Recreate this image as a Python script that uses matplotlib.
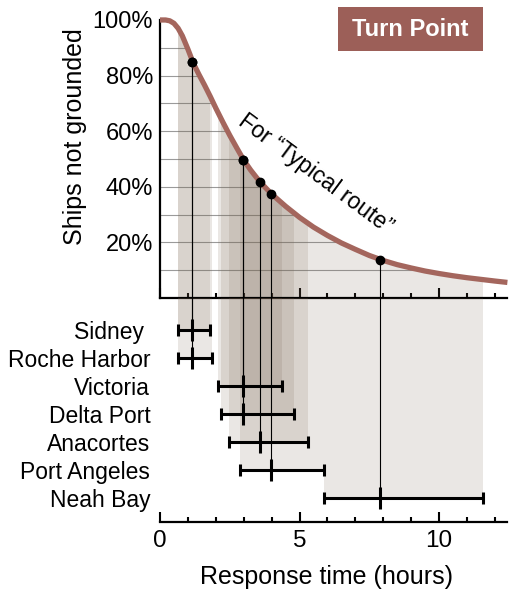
import numpy as np
import matplotlib.pyplot as plt
from matplotlib.patches import Polygon, Rectangle
from matplotlib.ticker import MultipleLocator

plt.rcParams["font.family"] = ["Liberation Sans", "DejaVu Sans"]

# share of ships not yet grounded vs response time, "typical route"
curve_t = [0, 0.2, 0.35, 0.5, 0.65, 0.8, 1.0, 1.2, 1.4, 1.6, 1.8, 2.0, 2.25,
           2.5, 2.75, 3.0, 3.25, 3.5, 3.75, 4.0, 4.5, 5.0, 5.5, 6.0, 6.5, 7.0,
           7.5, 8.0, 8.5, 9.0, 9.5, 10.0, 10.5, 11.0, 11.5, 12.0, 12.45]
curve_pct = [100, 100, 99.7, 98.8, 97, 94.3, 89.5, 84.3, 80.3, 76.5, 72.5,
             68.3, 63.3, 58.5, 54, 49.6, 46, 42.8, 40, 37.4, 33, 29, 25.5,
             22.5, 19.8, 17.5, 15.3, 13.5, 12, 10.8, 9.7, 8.8, 8.0, 7.3, 6.7,
             6.1, 5.6]

# response time per tug base (hours)
ports = ["Sidney ", "Roche Harbor", "Victoria", "Delta Port", "Anacortes",
         "Port Angeles", "Neah Bay"]
resp_mid = [1.16, 1.16, 2.97, 2.97, 3.58, 3.98, 7.89]
resp_lo = [0.66, 0.66, 2.07, 2.19, 2.49, 2.87, 5.89]
resp_hi = [1.79, 1.87, 4.39, 4.80, 5.32, 5.89, 11.59]
pct_at_mid = [84.8, 84.8, 49.6, 49.6, 41.8, 37.5, 13.7]

title = "Turn Point"

curve_col = "#a4665d"
box_col = "#9c5f58"
band_col = (0.47, 0.39, 0.31)
band_alpha = 0.15

W, H = 510.0, 605.0
fig = plt.figure(figsize=(W / 100, H / 100), dpi=100)

ax_top = fig.add_axes([160 / W, (H - 298) / H, 347.4 / W, 280.8 / H])
ax_bot = fig.add_axes([160 / W, (H - 522) / H, 347.4 / W, 224 / H])

xmax = 12.45
row_top = -1.143
row_bot = 6.857

# ---- upper panel ----
ax_top.set_xlim(0, xmax)
ax_top.set_ylim(0, 101)

under = Polygon(list(zip(curve_t, curve_pct)) + [(curve_t[-1], 0), (0, 0)],
                closed=True, facecolor="none", edgecolor="none")
ax_top.add_patch(under)

for y in range(10, 100, 10):
    gl = ax_top.axhline(y, color="#9a9a9a", lw=0.8, zorder=1)
    gl.set_clip_path(under)

for lo, hi in zip(resp_lo, resp_hi):
    sp = ax_top.axvspan(lo, hi, color=band_col, alpha=band_alpha, lw=0, zorder=2)
    sp.set_clip_path(under)

for m, p in zip(resp_mid, pct_at_mid):
    ax_top.plot([m, m], [0, p], color="k", lw=0.8, zorder=3)

ax_top.plot(curve_t, curve_pct, color=curve_col, lw=3.8, zorder=4,
            solid_capstyle="butt", solid_joinstyle="round", clip_on=False)
ax_top.plot(resp_mid, pct_at_mid, "o", color="k", ms=6, zorder=5)

ax_top.text(5.57, 44.5, "For \u201cTypical route\u201d", rotation=-36.5,
            rotation_mode="anchor", ha="center", va="center", fontsize=16.5)

ax_top.set_yticks([20, 40, 60, 80, 100], ["20%", "40%", "60%", "80%", "100%"])
ax_top.tick_params(axis="y", length=0, pad=5, labelsize=17)
ax_top.xaxis.set_major_locator(MultipleLocator(5))
ax_top.xaxis.set_minor_locator(MultipleLocator(1))
ax_top.tick_params(axis="x", which="both", direction="in", labelbottom=False,
                   width=1.5)
ax_top.tick_params(axis="x", which="major", length=7)
ax_top.tick_params(axis="x", which="minor", length=3.5)
for s in ["top", "right"]:
    ax_top.spines[s].set_visible(False)
ax_top.spines["left"].set_linewidth(1.6)
ax_top.spines["bottom"].set_linewidth(1.6)
ax_top.spines["left"].set_bounds(0, 100)
ax_top.patch.set_alpha(0)

# ---- lower panel ----
rows = np.arange(len(ports))
ax_bot.set_xlim(0, xmax)
ax_bot.set_ylim(row_bot, row_top)

for i, (lo, hi) in enumerate(zip(resp_lo, resp_hi)):
    ax_bot.fill_between([lo, hi], row_top, rows[i], color=band_col,
                        alpha=band_alpha, lw=0, zorder=1)
for i, m in enumerate(resp_mid):
    ax_bot.plot([m, m], [row_top, rows[i]], color="k", lw=0.8, zorder=2)

mid = np.array(resp_mid)
ax_bot.errorbar(mid, rows, xerr=[mid - np.array(resp_lo), np.array(resp_hi) - mid],
                fmt="none", ecolor="k", elinewidth=2.2, capsize=4.3,
                capthick=2.2, zorder=3)
ax_bot.plot(mid, rows, "|", color="k", ms=16, mew=2.2, zorder=4)

ax_bot.set_yticks(rows, ports)
ax_bot.tick_params(axis="y", length=0, pad=7, labelsize=16.5)
ax_bot.set_xticks([0, 5, 10])
ax_bot.xaxis.set_minor_locator(MultipleLocator(1))
ax_bot.tick_params(axis="x", which="both", direction="in", width=1.5,
                   labelsize=17.5, pad=6)
ax_bot.tick_params(axis="x", which="major", length=7)
ax_bot.tick_params(axis="x", which="minor", length=3.5)
for s in ["top", "right", "left"]:
    ax_bot.spines[s].set_visible(False)
ax_bot.spines["bottom"].set_linewidth(1.6)
ax_bot.patch.set_alpha(0)

fig.text(75 / W, (H - 137) / H, "Ships not grounded", rotation=90,
         ha="center", va="center", fontsize=18)
fig.text(327 / W, (H - 577) / H, "Response time (hours)", ha="center",
         va="center", fontsize=18)

fig.patches.append(Rectangle((338 / W, (H - 51) / H), 145 / W, 44 / H,
                             transform=fig.transFigure, facecolor=box_col,
                             edgecolor="none"))
fig.text(410.5 / W, (H - 29) / H, title, ha="center", va="center",
         color="white", fontsize=17, fontweight="bold")

fig.savefig("out.png", dpi=100)
